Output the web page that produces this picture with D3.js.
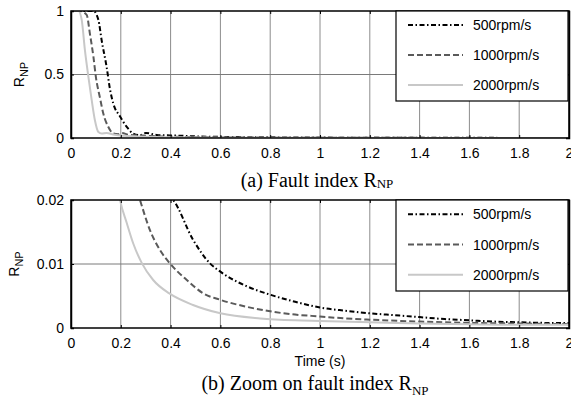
<!DOCTYPE html>
<html><head><meta charset="utf-8">
<script src="https://cdn.jsdelivr.net/npm/d3@7"></script>
<style>body{margin:0;background:#fff}svg{display:block}</style>
</head><body>
<svg id="c" width="571" height="406"></svg>
<script>
const seriesNames = ["500rpm/s", "1000rpm/s", "2000rpm/s"];
const t500 = [0.02,0.09,0.11,0.123,0.143,0.157,0.17,0.197,0.224,0.25,0.277,0.3,0.344,0.38,0.41,0.49,0.558,0.6,0.707,0.8,0.9,1.0,1.1,1.2,1.3,1.4,1.5,1.6,1.7,1.8,1.9,2.0];
const v500 = [1,1,0.93,0.77,0.56,0.38,0.27,0.17,0.087,0.035,0.022,0.04,0.024,0.021,0.02,0.0138,0.0101,0.0088,0.0065,0.0052,0.0041,0.0032,0.0027,0.0023,0.002,0.0017,0.0014,0.0012,0.001,0.0009,0.0008,0.0008];
const t1000 = [0.02,0.036,0.063,0.076,0.09,0.1,0.116,0.13,0.15,0.17,0.19,0.205,0.23,0.277,0.317,0.357,0.395,0.465,0.532,0.6,0.707,0.8,0.9,1.0,1.1,1.2,1.4,1.6,1.8,2.0];
const v1000 = [1,1,0.97,0.82,0.64,0.48,0.32,0.19,0.087,0.035,0.03,0.04,0.026,0.02,0.0153,0.0122,0.0102,0.0075,0.0054,0.0044,0.0033,0.0026,0.0021,0.0018,0.0015,0.0013,0.001,0.0008,0.0007,0.0006];
const t2000 = [0.01,0.03,0.043,0.056,0.07,0.083,0.096,0.11,0.123,0.143,0.17,0.197,0.224,0.25,0.285,0.33,0.395,0.49,0.6,0.76,0.9,1.0,1.2,1.4,1.6,1.8,2.0];
const v2000 = [1,1,0.93,0.69,0.48,0.3,0.14,0.047,0.035,0.04,0.027,0.02,0.0164,0.0132,0.0101,0.0075,0.0054,0.0036,0.0023,0.0015,0.0012,0.0011,0.0009,0.0007,0.0006,0.0005,0.0005];
const xTicks = [0,0.2,0.4,0.6,0.8,1,1.2,1.4,1.6,1.8,2];
const yTicksA = [0,0.5,1];
const yTicksB = [0,0.01,0.02];

const series = [
  {name: seriesNames[0], t: t500, v: v500, color: "#000000", dash: "5,2.5,1.5,2.5"},
  {name: seriesNames[1], t: t1000, v: v1000, color: "#5a5a5a", dash: "6,3"},
  {name: seriesNames[2], t: t2000, v: v2000, color: "#c8c8c8", dash: null}
];

const svg = d3.select("#c");
const X0 = 71, X1 = 569;
const x = d3.scaleLinear().domain([0,2]).range([X0,X1]);

function panel(id, yTop, yBot, yMax, yTicks, ylabX, legTop, legBot) {
  const y = d3.scaleLinear().domain([0,yMax]).range([yBot,yTop]);
  const g = svg.append("g");
  g.append("clipPath").attr("id","clip"+id).append("rect")
    .attr("x",X0).attr("y",yTop).attr("width",X1-X0).attr("height",yBot-yTop);
  // grid
  g.append("g").selectAll("line").data(xTicks.slice(1,-1)).join("line")
    .attr("x1",d=>x(d)).attr("x2",d=>x(d)).attr("y1",yTop).attr("y2",yBot)
    .attr("stroke","#8c8c8c").attr("stroke-width",1);
  g.append("g").selectAll("line").data(yTicks.slice(1,-1)).join("line")
    .attr("y1",d=>y(d)).attr("y2",d=>y(d)).attr("x1",X0).attr("x2",X1)
    .attr("stroke","#7a7a7a").attr("stroke-width",1);
  // lines
  const cg = g.append("g").attr("clip-path","url(#clip"+id+")");
  series.forEach(s => {
    const pts = s.t.map((tt,i)=>[tt,s.v[i]]);
    const line = d3.line().x(d=>x(d[0])).y(d=>y(d[1])).curve(d3.curveMonotoneX);
    cg.append("path").attr("d",line(pts)).attr("fill","none")
      .attr("stroke",s.color).attr("stroke-width",2)
      .attr("stroke-dasharray",s.dash);
  });
  // axes box with inward ticks
  const ax = g.append("g");
  ax.append("g").attr("transform",`translate(0,${yBot})`)
    .call(d3.axisBottom(x).tickValues(xTicks).tickSize(-3).tickPadding(10).tickFormat(d3.format("~g")));
  ax.append("g").attr("transform",`translate(0,${yTop})`)
    .call(d3.axisTop(x).tickValues(xTicks).tickSize(-3).tickFormat(""));
  ax.append("g").attr("transform",`translate(${X0},0)`)
    .call(d3.axisLeft(y).tickValues(yTicks).tickSize(-3).tickPadding(7).tickFormat(d3.format("~g")));
  ax.append("g").attr("transform",`translate(${X1},0)`)
    .call(d3.axisRight(y).tickValues(yTicks).tickSize(-3).tickFormat(""));
  ax.selectAll(".domain").attr("stroke","#000").attr("stroke-width",1.5);
  ax.selectAll(".tick line").attr("stroke","#000");
  ax.selectAll("text").attr("font-family","'Liberation Sans', Arial, sans-serif")
    .attr("font-size",14).attr("fill","#000");
  ax.selectAll("path.domain").attr("d", function(){ return d3.select(this).attr("d").replace(/M[^H V]*?V[^H]*?H/,"M").replace(/H[^V]*V[^H]*$/,""); });
  g.append("rect").attr("x",X0).attr("y",yTop).attr("width",X1-X0).attr("height",yBot-yTop)
    .attr("fill","none").attr("stroke","#000").attr("stroke-width",1.5);
  // y label
  const yl = g.append("text").attr("transform",`translate(${ylabX},${(yTop+yBot)/2}) rotate(-90)`)
    .attr("text-anchor","middle").attr("font-family","'Liberation Sans', Arial, sans-serif")
    .attr("font-size",14).attr("fill","#000");
  yl.append("tspan").text("R");
  yl.append("tspan").attr("font-size",11).attr("dy",4).text("NP");
  // legend
  const lg = g.append("g");
  lg.append("rect").attr("x",396).attr("y",legTop).attr("width",X1-1-396).attr("height",legBot-legTop)
    .attr("fill","#fff").attr("stroke","#000").attr("stroke-width",1.2);
  const step = (legBot-legTop)/3;
  series.forEach((s,i)=>{
    const yy = legTop + step*(i+0.5) - 1;
    lg.append("line").attr("x1",408).attr("x2",463).attr("y1",yy).attr("y2",yy)
      .attr("stroke",s.color).attr("stroke-width",2).attr("stroke-dasharray",s.dash);
    lg.append("text").attr("x",473).attr("y",yy+5).text(s.name)
      .attr("font-family","'Liberation Sans', Arial, sans-serif").attr("font-size",14).attr("fill","#000");
  });
  return y;
}

panel("a", 11, 138, 1, yTicksA, 24, 11, 101);
panel("b", 200, 328, 0.02, yTicksB, 19, 200, 291);

function caption(cx, cy, main, sub, dy) {
  const t = svg.append("text").attr("x",cx).attr("y",cy).attr("text-anchor","middle")
    .attr("font-family","'Liberation Serif', 'Times New Roman', serif").attr("font-size",20).attr("fill","#000");
  t.append("tspan").text(main);
  t.append("tspan").attr("font-size",13).attr("dy",dy).text(sub);
}
caption(317, 187, "(a) Fault index R", "NP", 1);
caption(315, 390, "(b) Zoom on fault index R", "NP", 5);
svg.append("text").attr("x",320).attr("y",366).attr("text-anchor","middle")
  .attr("font-family","'Liberation Sans', Arial, sans-serif").attr("font-size",14).text("Time (s)");
</script>
</body></html>
